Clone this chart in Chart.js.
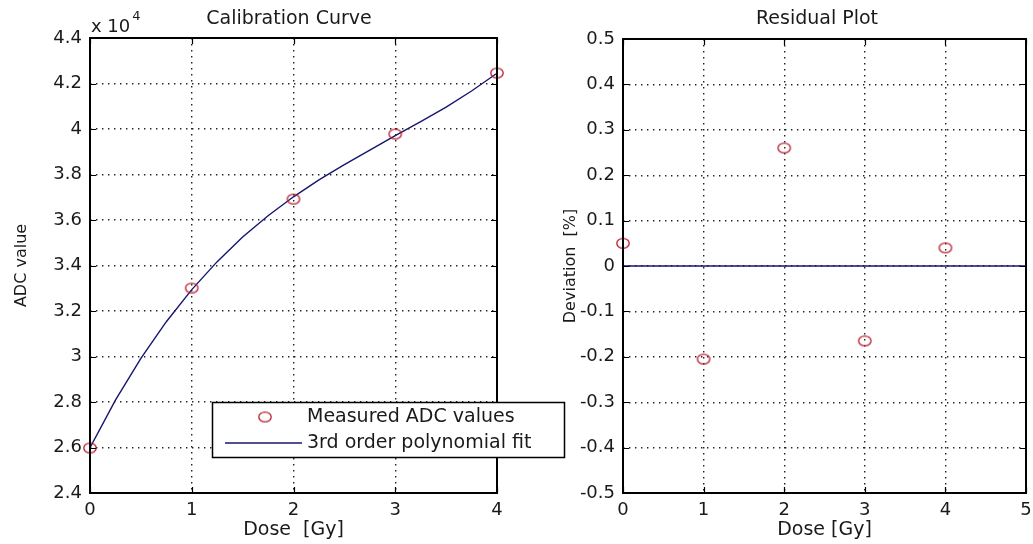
<!DOCTYPE html>
<html>
<head>
<meta charset="utf-8">
<script src="https://cdn.jsdelivr.net/npm/chart.js@4.4.1/dist/chart.umd.min.js"></script>
<style>
html,body{margin:0;padding:0;background:#fff;width:1033px;height:544px;overflow:hidden}
#cLeft{position:absolute;left:0;top:0;z-index:2}
#cRight{position:absolute;left:520px;top:0;z-index:1}
</style>
</head>
<body>
<canvas id="cLeft" width="570" height="544" style="width:570px;height:544px"></canvas>
<canvas id="cRight" width="513" height="544" style="width:513px;height:544px"></canvas>
<script>
// ---- data ----
const doseLevels = [0, 1, 2, 3, 4];
const measuredADC = [25980, 33010, 36920, 39780, 42460];
const fitDose = [0, 0.25, 0.5, 0.75, 1, 1.25, 1.5, 1.75, 2, 2.25, 2.5, 2.75, 3, 3.25, 3.5, 3.75, 4];
const fitADC = [25990, 28080, 29920, 31530, 32940, 34170, 35250, 36190, 37020, 37760, 38430, 39070, 39710, 40320, 40960, 41670, 42450];
const deviationPct = [0.05, -0.205, 0.26, -0.165, 0.04];
const zeroLineDose = [0, 5];
const zeroLineDev = [0, 0];
const leftTitle = 'Calibration Curve';
const rightTitle = 'Residual Plot';
const seriesNames = ['Measured ADC values', '3rd order polynomial fit'];

const FONT = 'DejaVu Sans';
const markerRed = '#b81c2c';
const lineBlue = '#16166e';
const textColor = '#1a1a1a';

function ellipseMarker(color) {
  const c = document.createElement('canvas');
  c.width = 16; c.height = 13;
  const g = c.getContext('2d');
  g.strokeStyle = color; g.lineWidth = 1.3;
  g.beginPath(); g.ellipse(8, 6.5, 6.2, 4.8, 0, 0, Math.PI * 2); g.stroke();
  return c;
}
const marker = ellipseMarker(markerRed);

const fmt = v => Number(Number(v).toFixed(1)).toString();

const boxPlugin = {
  id: 'matlabBox',
  afterDraw(chart, args, o) {
    const {ctx, chartArea: a, scales} = chart;
    ctx.save();
    // inward ticks on all sides
    ctx.strokeStyle = '#000'; ctx.lineWidth = 1.2;
    const tl = 6;
    ctx.beginPath();
    scales.x.ticks.forEach(t => {
      const px = Math.round(scales.x.getPixelForValue(t.value)) + 0.5;
      ctx.moveTo(px, a.bottom); ctx.lineTo(px, a.bottom - tl);
      ctx.moveTo(px, a.top); ctx.lineTo(px, a.top + tl);
    });
    scales.y.ticks.forEach(t => {
      const py = Math.round(scales.y.getPixelForValue(t.value)) + 0.5;
      ctx.moveTo(a.left, py); ctx.lineTo(a.left + tl, py);
      ctx.moveTo(a.right, py); ctx.lineTo(a.right - tl, py);
    });
    ctx.stroke();
    ctx.lineWidth = 2;
    ctx.strokeRect(a.left, a.top, a.right - a.left, a.bottom - a.top);
    // title
    ctx.fillStyle = textColor;
    ctx.font = '19px "' + FONT + '"';
    ctx.textAlign = 'center'; ctx.textBaseline = 'middle';
    ctx.fillText(o.title, o.titleX, 19);
    // exponent label
    if (o.exponent) {
      ctx.textAlign = 'left';
      ctx.font = '18px "' + FONT + '"';
      ctx.fillText('x 10', a.left + 1, 27);
      const w = ctx.measureText('x 10').width;
      ctx.font = '13px "' + FONT + '"';
      ctx.fillText(o.exponent, a.left + 3 + w, 17);
    }
    // legend
    if (o.legend) {
      const L = o.legend;
      ctx.fillStyle = '#fff';
      ctx.fillRect(L.x, L.y, L.w, L.h);
      ctx.strokeStyle = '#000'; ctx.lineWidth = 1.5;
      ctx.strokeRect(L.x + 0.5, L.y + 0.5, L.w, L.h);
      ctx.font = '19px "' + FONT + '"';
      ctx.textAlign = 'left'; ctx.textBaseline = 'middle';
      chart.data.datasets.forEach((ds, i) => {
        const ry = L.y + 15 + i * 26;
        if (ds.showLine) {
          ctx.strokeStyle = ds.borderColor; ctx.lineWidth = 1.5;
          ctx.beginPath(); ctx.moveTo(L.x + 13, ry); ctx.lineTo(L.x + 90, ry); ctx.stroke();
        } else {
          ctx.drawImage(ds.pointStyle, L.x + 53 - ds.pointStyle.width / 2, ry - ds.pointStyle.height / 2);
        }
        ctx.fillStyle = textColor;
        ctx.fillText(ds.label, L.x + 95, ry);
      });
    }
    ctx.restore();
  }
};

function gridOpts() {
  return {color: '#222', lineWidth: 1.4, drawTicks: false};
}

function makeScales(cfg) {
  return {
    x: {
      type: 'linear', min: cfg.xMin, max: cfg.xMax,
      grid: gridOpts(), border: {display: false, dash: [1.4, 4.6]},
      ticks: {stepSize: 1, color: textColor, font: {family: FONT, size: 18}, padding: 7, maxRotation: 0, autoSkip: false, callback: v => fmt(v)},
      title: {display: true, text: cfg.xTitle, color: textColor, font: {family: FONT, size: 19}, padding: {top: 0, bottom: 3}},
      afterFit: s => { s.height = 51; s.paddingLeft = 0; s.paddingRight = 0; }
    },
    y: {
      type: 'linear', min: cfg.yMin, max: cfg.yMax,
      grid: gridOpts(), border: {display: false, dash: [1.4, 4.6]},
      ticks: {stepSize: cfg.yStep, color: textColor, font: {family: FONT, size: 18}, padding: 8, autoSkip: false, callback: cfg.yFmt},
      title: {display: true, text: cfg.yTitle, color: textColor, font: {family: FONT, size: 16}, padding: {top: cfg.yTitlePad, bottom: 0}},
      afterFit: s => { s.width = cfg.yWidth; s.paddingTop = 0; s.paddingBottom = 0; }
    }
  };
}

new Chart(document.getElementById('cLeft'), {
  type: 'scatter',
  data: {
    datasets: [
      {
        label: seriesNames[0],
        data: doseLevels.map((d, i) => ({x: d, y: measuredADC[i]})),
        pointStyle: marker, pointRadius: 6, showLine: false, clip: false,
        borderColor: markerRed
      },
      {
        label: seriesNames[1],
        data: fitDose.map((d, i) => ({x: d, y: fitADC[i]})),
        showLine: true, pointRadius: 0, borderColor: lineBlue, borderWidth: 1.4, tension: 0
      }
    ]
  },
  options: {
    responsive: false, animation: false,
    layout: {padding: {left: 0, right: 73, top: 38, bottom: 0}},
    plugins: {
      legend: {display: false}, tooltip: {enabled: false},
      matlabBox: {title: leftTitle, titleX: 289, exponent: '4', legend: {x: 212, y: 402, w: 352, h: 55}}
    },
    scales: makeScales({xMin: 0, xMax: 4, yMin: 24000, yMax: 44000, yStep: 2000,
      xTitle: 'Dose  [Gy]', yTitle: 'ADC value', yTitlePad: 12, yWidth: 90,
      yFmt: v => fmt(v / 10000)})
  },
  plugins: [boxPlugin]
});

new Chart(document.getElementById('cRight'), {
  type: 'scatter',
  data: {
    datasets: [
      {
        label: 'Deviation',
        data: doseLevels.map((d, i) => ({x: d, y: deviationPct[i]})),
        pointStyle: marker, pointRadius: 6, showLine: false, clip: false,
        borderColor: markerRed
      },
      {
        label: 'Zero',
        data: zeroLineDose.map((d, i) => ({x: d, y: zeroLineDev[i]})),
        showLine: true, pointRadius: 0, borderColor: lineBlue, borderWidth: 1.4
      }
    ]
  },
  options: {
    responsive: false, animation: false,
    layout: {padding: {left: 0, right: 3, top: 39, bottom: 0}},
    plugins: {
      legend: {display: false}, tooltip: {enabled: false},
      matlabBox: {title: rightTitle, titleX: 297}
    },
    scales: makeScales({xMin: 0, xMax: 5, yMin: -0.5, yMax: 0.5, yStep: 0.1,
      xTitle: 'Dose [Gy]', yTitle: 'Deviation  [%]', yTitlePad: 41, yWidth: 103,
      yFmt: v => fmt(v)})
  },
  plugins: [boxPlugin]
});
</script>
</body>
</html>
